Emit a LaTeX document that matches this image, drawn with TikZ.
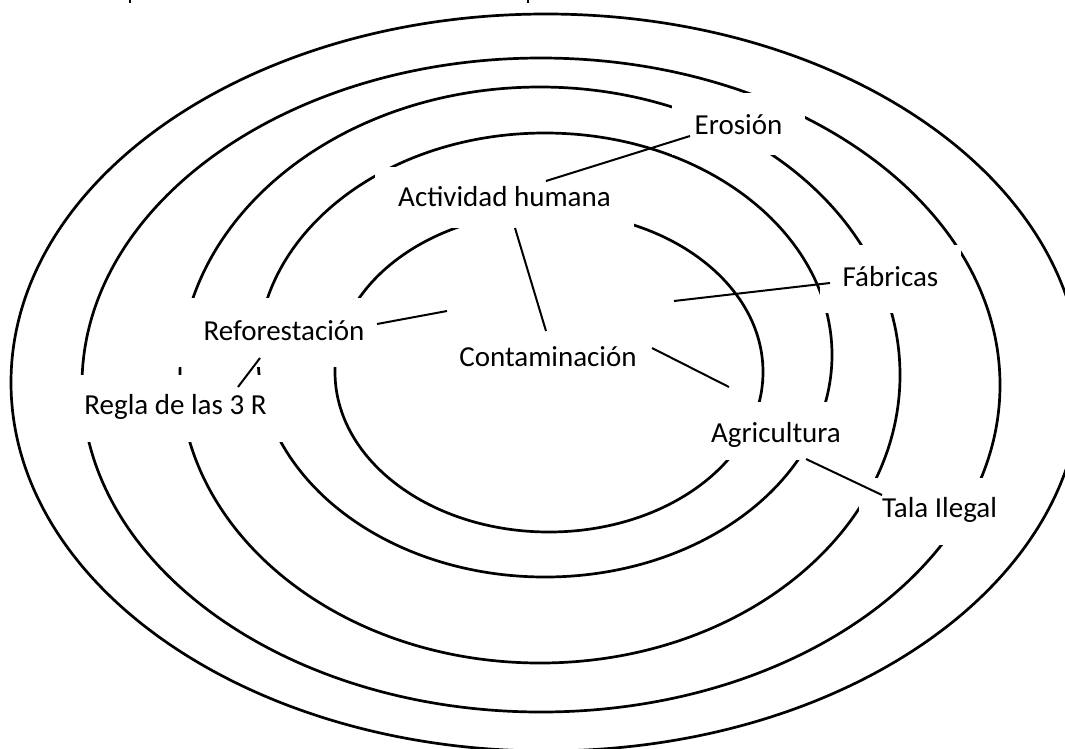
\documentclass[tikz,border=0pt]{standalone}
\usepackage{fontspec}
\setmainfont{Carlito}
\begin{document}
\begin{tikzpicture}[x=1pt,y=-1pt,
  ring/.style={line width=2.7pt},
  link/.style={line width=2pt},
  tick/.style={line width=1.8pt},
  lbl/.style={fill=white,inner xsep=23pt,inner ysep=0pt,anchor=base,
              font=\fontsize{29}{35}\selectfont}]
\useasboundingbox (0,0) rectangle (1065,748);
\clip (0,0) rectangle (1065,748);
% concentric rings
\draw[ring] (549,372) ellipse [x radius=214, y radius=160];
\draw[ring] (545,355) ellipse [x radius=287, y radius=222];
\draw[ring] (540,375) ellipse [x radius=360, y radius=288];
\draw[ring] (541,385) ellipse [x radius=459, y radius=327];
\draw[ring] (546,382.5) ellipse [x radius=535, y radius=368.5];
% labels (white boxes)
\node[lbl, text height=41pt, text depth=21pt] (eros) at (738.5,134) {Erosión};
\node[lbl, text height=39pt, text depth=22pt] (acth) at (504.5,206) {Actividad humana};
\node[lbl, text height=41pt, text depth=27pt] (fabr) at (890.5,286) {Fábricas};
\node[lbl, inner xsep=32pt, text height=42pt, text depth=27pt] (refo) at (284,340) {Reforestación};
\node[lbl, text height=40pt, text depth=25pt] (cont) at (548,366) {Contaminación};
\node[lbl, text height=40pt, text depth=18pt] (agri) at (776,442) {Agricultura};
\node[lbl, text height=39pt, text depth=28pt] (tala) at (939.5,517) {Tala Ilegal};
\node[lbl, text height=39pt, text depth=28pt] (regl) at (175.5,414) {Regla de las 3 R};
% connector end points
\coordinate (erosA) at (690,136);
\coordinate (erosB) at (546,181);
\coordinate (actA) at (515,228);
\coordinate (actB) at (546,331);
\coordinate (refA) at (377,324);
\coordinate (refB) at (447,311);
\coordinate (fabA) at (830,283);
\coordinate (fabB) at (674,301);
\coordinate (agrA) at (652,348);
\coordinate (agrB) at (729,387);
\coordinate (talA) at (806,459);
\coordinate (talB) at (882,495);
\coordinate (regA) at (260,358);
\coordinate (regB) at (238,387);
\draw[link] (erosA) -- (erosB);
\draw[link] (actA) -- (actB);
\draw[link] (refA) -- (refB);
\draw[link] (fabA) -- (fabB);
\draw[link] (agrA) -- (agrB);
\draw[link] (talA) -- (talB);
\draw[link] (regA) -- (regB);
% small marks at the top edge
\coordinate (tkA1) at (130,0);
\coordinate (tkA2) at (130,3);
\coordinate (tkB1) at (528,0);
\coordinate (tkB2) at (528,3);
\draw[tick] (tkA1) -- (tkA2);
\draw[tick] (tkB1) -- (tkB2);
\end{tikzpicture}
\end{document}
